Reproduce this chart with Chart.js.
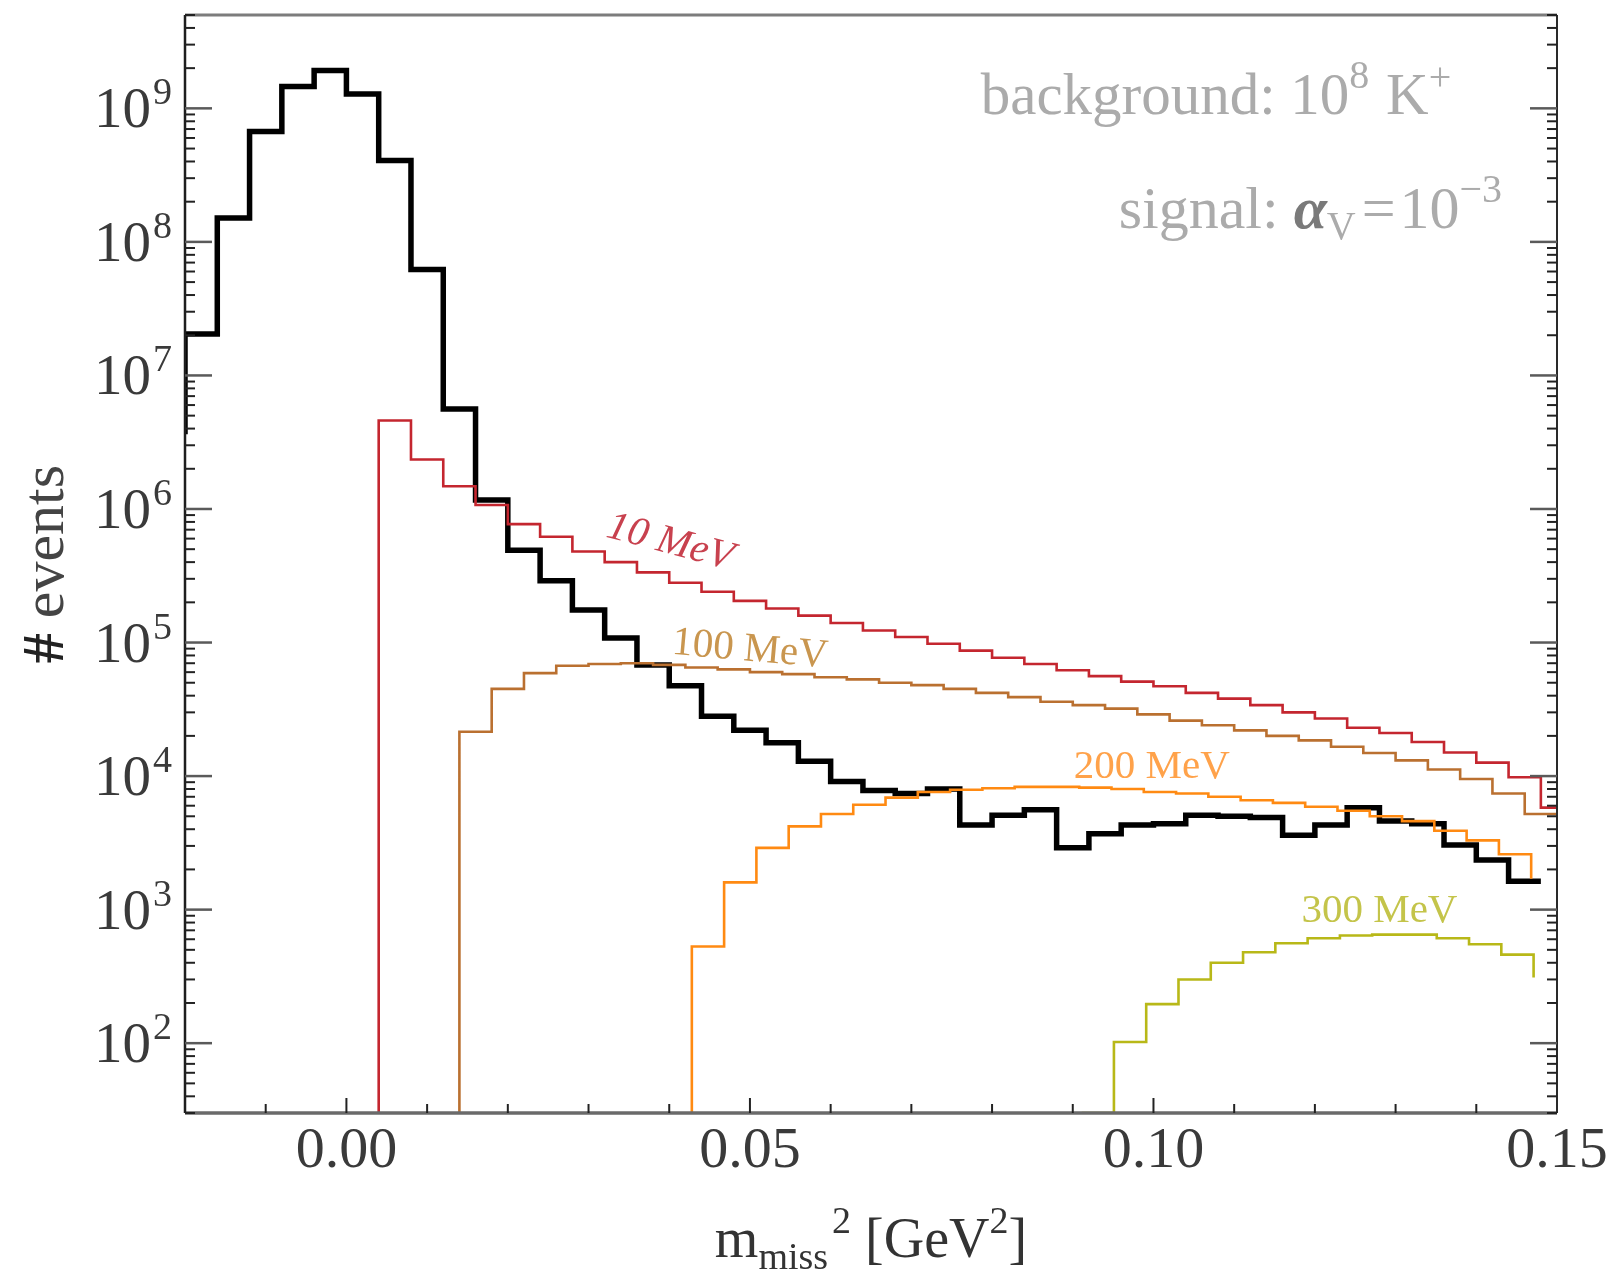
<!DOCTYPE html>
<html lang="en">
<head>
<meta charset="UTF-8">
<script src="https://cdn.jsdelivr.net/npm/chart.js@4.4.0/dist/chart.umd.min.js"></script>
<title>missing mass spectrum</title>
<style>
  html, body { margin: 0; padding: 0; background: #fff; }
  canvas { display: block; }
</style>
</head>
<body>
<canvas id="histChart" width="1613" height="1271"></canvas>
<script>
// all histograms use the same bin width (GeV^2)
var binWidth = 0.004;

// background K+ -> mu nu etc, first bin sits just left of the frame
var bgStart = -0.024;
var bgValues = [3.8e6, 2.04e7, 1.51e8, 6.7e8, 1.46e9, 1.92e9, 1.28e9, 4.07e8, 6.2e7, 5.6e6,
    1.17e6, 4.9e5, 2.9e5, 1.75e5, 1.08e5, 6.8e4, 4.75e4, 2.8e4, 2.2e4, 1.78e4,
    1.29e4, 9.1e3, 7.8e3, 7.4e3, 8.0e3, 4.3e3, 5.1e3, 5.6e3, 2.9e3, 3.7e3,
    4.3e3, 4.4e3, 5.1e3, 5.0e3, 4.9e3, 3.6e3, 4.3e3, 5.8e3, 4.6e3, 4.4e3,
    3.05e3, 2.35e3, 1.63e3];

// signals, one list per mediator mass
var sig10Start = 0.004;
var sig10Values = [4.6e6, 2.35e6, 1.48e6, 1.07e6, 7.7e5, 6.2e5, 4.8e5, 4.0e5, 3.35e5, 2.8e5,
    2.4e5, 2.05e5, 1.8e5, 1.59e5, 1.4e5, 1.23e5, 1.1e5, 9.8e4, 8.7e4, 7.7e4,
    6.9e4, 6.2e4, 5.6e4, 5.1e4, 4.7e4, 4.2e4, 3.8e4, 3.4e4, 3.0e4, 2.7e4,
    2.3e4, 2.1e4, 1.8e4, 1.5e4, 1.26e4, 9.8e3, 5.8e3];

var sig100Start = 0.014;
var sig100Values = [2.15e4, 4.5e4, 5.9e4, 6.7e4, 6.9e4, 7.0e4, 6.8e4, 6.5e4, 6.3e4, 6.0e4,
    5.8e4, 5.5e4, 5.3e4, 5.0e4, 4.8e4, 4.5e4, 4.2e4, 3.9e4, 3.6e4, 3.4e4,
    3.2e4, 2.9e4, 2.6e4, 2.4e4, 2.2e4, 2.0e4, 1.85e4, 1.66e4, 1.49e4, 1.31e4,
    1.12e4, 9.5e3, 7.4e3, 5.2e3];

var sig200Start = 0.0428;
var sig200Values = [5.3e2, 1.6e3, 2.9e3, 4.2e3, 5.2e3, 6.1e3, 6.9e3, 7.6e3, 7.9e3, 8.1e3,
    8.3e3, 8.3e3, 8.2e3, 8.0e3, 7.6e3, 7.4e3, 7.0e3, 6.6e3, 6.3e3, 5.9e3,
    5.5e3, 5.0e3, 4.6e3, 3.9e3, 3.3e3, 2.6e3];
var sig200Tail = 1.7e3;

var sig300Start = 0.0911;
var sig300Values = [30, 1.02e2, 1.96e2, 3.0e2, 4.0e2, 4.8e2, 5.6e2, 6.1e2, 6.4e2, 6.5e2,
    6.5e2, 6.1e2, 5.5e2, 4.6e2];
var sig300Tail = 3.1e2;

var seriesNames = ['10 MeV', '100 MeV', '200 MeV', '300 MeV'];

// axes
var xMin = -0.02, xMax = 0.15;
var yMin = 30, yMax = 5e9;
var xTickValues = [0, 0.05, 0.10, 0.15];
var xTickLabels = ['0.00', '0.05', '0.10', '0.15'];
var yTickExps = [2, 3, 4, 5, 6, 7, 8, 9];

var SERIF = '"Liberation Serif", "DejaVu Serif", serif';

// histogram outline: one point per left edge, drawn with stepped:'before'
function stepPoints(start, values, lead, tail) {
    var pts = [];
    if (lead != null) pts.push({ x: start, y: lead });
    for (var i = 0; i < values.length; i++) {
        pts.push({ x: start + i * binWidth, y: values[i] });
    }
    var last = tail != null ? tail : values[values.length - 1];
    pts.push({ x: start + values.length * binWidth, y: last });
    return pts;
}

function hline(ctx, x1, y1, x2, y2, col, w) {
    ctx.beginPath();
    ctx.strokeStyle = col;
    ctx.lineWidth = w;
    ctx.moveTo(x1, y1);
    ctx.lineTo(x2, y2);
    ctx.stroke();
}

// draw a row of text pieces (for sub/superscripts)
function drawRuns(ctx, runs, x, y, align) {
    var total = 0;
    runs.forEach(function (r) {
        ctx.font = (r.style || '') + ' ' + r.size + 'px ' + SERIF;
        r.w = ctx.measureText(r.t).width + (r.gap || 0);
        total += r.w;
    });
    var cx = x;
    if (align === 'right') cx = x - total;
    if (align === 'center') cx = x - total / 2;
    ctx.textAlign = 'left';
    ctx.textBaseline = 'alphabetic';
    runs.forEach(function (r) {
        ctx.font = (r.style || '') + ' ' + r.size + 'px ' + SERIF;
        ctx.fillStyle = r.color;
        ctx.fillText(r.t, cx, y + (r.dy || 0));
        cx += r.w;
    });
}

var labelSpots = [
    { x: 0.0401, y: 5.6e5, angle: 15, color: '#c8414e', style: 'italic' },
    { x: 0.0500, y: 8.8e4, angle: 5, color: '#c9964f', style: '' },
    { x: 0.0998, y: 1.17e4, angle: 0, color: '#ffa24a', style: '' },
    { x: 0.1280, y: 9.8e2, angle: 0, color: '#c4c44a', style: '' }
];

var frameAndText = {
    id: 'frameAndText',
    afterDraw: function (chart) {
        var ctx = chart.ctx, a = chart.chartArea;
        var xs = chart.scales.x, ys = chart.scales.y;
        ctx.save();
        ctx.lineCap = 'butt';

        // frame
        hline(ctx, a.left, a.top, a.right, a.top, '#7c7c7c', 3);
        hline(ctx, a.left, a.bottom, a.right, a.bottom, '#6a6a6a', 3.5);
        hline(ctx, a.left, a.top, a.left, a.bottom, '#1e1e1e', 2.5);
        hline(ctx, a.right, a.top, a.right, a.bottom, '#2a2a2a', 2);

        // log ticks, inward, left and right
        for (var e = 1; e <= 9; e++) {
            for (var m = 1; m <= 9; m++) {
                var v = m * Math.pow(10, e);
                if (v < yMin || v > yMax) continue;
                var py = ys.getPixelForValue(v);
                var len = m === 1 ? 27 : 10;
                var col = m === 1 ? '#5a5a5a' : '#222';
                var lw = m === 1 ? 2.5 : 2;
                hline(ctx, a.left, py, a.left + len, py, col, lw);
                hline(ctx, a.right, py, a.right - len, py, col, lw);
            }
        }
        // x ticks every 0.01, longer at labelled ones
        for (var k = -1; k <= 14; k++) {
            var px = xs.getPixelForValue(k / 100);
            var major = k % 5 === 0;
            hline(ctx, px, a.bottom, px, a.bottom - (major ? 15 : 9), '#222', 2);
        }

        // tick labels
        var tickCol = '#3a3a3a';
        yTickExps.forEach(function (ex) {
            var py = ys.getPixelForValue(Math.pow(10, ex));
            drawRuns(ctx, [
                { t: '10', size: 57, color: tickCol, gap: 2 },
                { t: String(ex), size: 38, dy: -23, color: tickCol }
            ], a.left - 13, py + 19, 'right');
        });
        ctx.font = '58px ' + SERIF;
        ctx.textAlign = 'center';
        ctx.textBaseline = 'alphabetic';
        ctx.fillStyle = tickCol;
        xTickValues.forEach(function (v, i) {
            ctx.fillText(xTickLabels[i], xs.getPixelForValue(v), a.bottom + 54);
        });

        // axis titles
        drawRuns(ctx, [
            { t: 'm', size: 56, color: '#333' },
            { t: 'miss', size: 38, dy: 12, color: '#333', gap: 4 },
            { t: '2', size: 38, dy: -24, color: '#333' },
            { t: ' [GeV', size: 56, color: '#333' },
            { t: '2', size: 38, dy: -24, color: '#333' },
            { t: ']', size: 56, color: '#333' }
        ], (a.left + a.right) / 2, a.bottom + 144, 'center');

        ctx.save();
        ctx.translate(63, (a.top + a.bottom) / 2);
        ctx.rotate(-Math.PI / 2);
        drawRuns(ctx, [
            { t: '#', size: 60, style: 'bold', color: '#222' },
            { t: ' events', size: 60, color: '#444' }
        ], 0, 0, 'center');
        ctx.restore();

        // info text
        var grey = '#ababab';
        drawRuns(ctx, [
            { t: 'background: 10', size: 59, color: grey },
            { t: '8', size: 40, dy: -26, color: grey, gap: 2 },
            { t: ' K', size: 59, color: grey },
            { t: '+', size: 40, dy: -24, color: grey }
        ], xs.getPixelForValue(0.1369), 114, 'right');
        drawRuns(ctx, [
            { t: 'signal: ', size: 60, color: grey },
            { t: 'α', size: 60, style: 'italic bold', color: '#7a7a7a' },
            { t: 'V', size: 40, dy: 11, color: grey, gap: 6 },
            { t: '=', size: 60, color: grey, gap: 4 },
            { t: '10', size: 60, color: grey },
            { t: '−3', size: 40, dy: -26, color: grey }
        ], xs.getPixelForValue(0.1432), 228, 'right');

        // series labels
        labelSpots.forEach(function (s, i) {
            ctx.save();
            ctx.translate(xs.getPixelForValue(s.x), ys.getPixelForValue(s.y));
            ctx.rotate(s.angle * Math.PI / 180);
            ctx.font = s.style + ' 41px ' + SERIF;
            ctx.fillStyle = s.color;
            ctx.textAlign = 'center';
            ctx.textBaseline = 'middle';
            ctx.fillText(seriesNames[i], 0, 0);
            ctx.restore();
        });

        ctx.restore();
    }
};

function histSet(label, pts, color, width) {
    return {
        label: label,
        data: pts,
        borderColor: color,
        borderWidth: width,
        stepped: 'before',
        fill: false,
        pointRadius: 0,
        borderJoinStyle: 'miter',
        borderCapStyle: 'butt'
    };
}

var chartCanvas = document.getElementById('histChart');
var myChart = new Chart(chartCanvas, {
    type: 'line',
    data: {
        datasets: [
            histSet(seriesNames[0], stepPoints(sig10Start, sig10Values, 1, null), '#c4262f', 2.6),
            histSet(seriesNames[1], stepPoints(sig100Start, sig100Values, 1, null), '#ba7030', 2.6),
            histSet(seriesNames[2], stepPoints(sig200Start, sig200Values, 1, sig200Tail), '#ff8a12', 2.6),
            histSet(seriesNames[3], stepPoints(sig300Start, sig300Values, null, sig300Tail), '#b8b818', 2.6),
            histSet('background', stepPoints(bgStart, bgValues, null, null), '#000000', 5.5)
        ]
    },
    options: {
        responsive: false,
        animation: false,
        devicePixelRatio: 1,
        layout: { padding: { left: 185, right: 56, top: 15, bottom: 158 } },
        plugins: {
            legend: { display: false },
            tooltip: { enabled: false }
        },
        scales: {
            x: { type: 'linear', min: xMin, max: xMax, display: false },
            y: { type: 'logarithmic', min: yMin, max: yMax, display: false }
        }
    },
    plugins: [frameAndText]
});
</script>
</body>
</html>
